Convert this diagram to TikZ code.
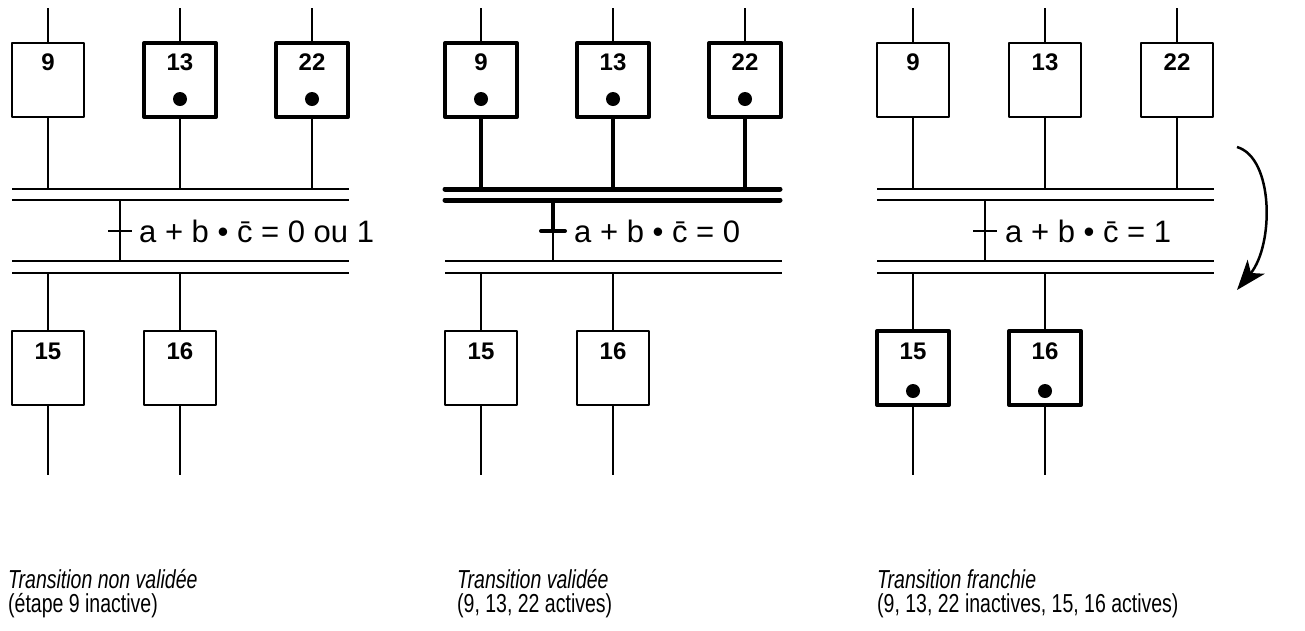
\documentclass[tikz,border=0pt]{standalone}
\usepackage{fontspec}
\setmainfont{Liberation Sans}
\newfontfamily\etroite[FakeStretch=0.75]{Liberation Sans}
\usetikzlibrary{arrows.meta}

\tikzset{
  etape/.style={draw, line width=2pt, line join=round, minimum width=72pt, minimum height=74pt, inner sep=0pt},
  active/.style={line width=4pt},
  numero/.style={font=\bfseries\fontsize{24}{24}\selectfont, inner sep=0pt},
  jeton/.style={circle, fill, inner sep=0pt, minimum size=14pt},
  lien/.style={line width=1.5pt},
  lienfort/.style={line width=4pt},
  busfort/.style={line width=5pt, line cap=round},
  receptivite/.style={anchor=west, inner sep=0pt, font=\fontsize{31}{31}\selectfont},
  legende/.style={anchor=base west, inner sep=0pt, font=\etroite\fontsize{26}{26}\selectfont},
}

\begin{document}
\begin{tikzpicture}[x=1pt, y=-1pt]
\useasboundingbox (0,0) rectangle (1305,630);

% transition non validee
\coordinate (a-haut) at (0,8);
\coordinate (a-bas) at (0,475);
\coordinate (a-s1) at (12,189); \coordinate (a-s2) at (12,200);
\coordinate (a-s3) at (12,261); \coordinate (a-s4) at (12,273);
\node[etape] (a9) at (48,80) {};
\node[etape, active] (a13) at (180,80) {};
\node[etape, active] (a22) at (312,80) {};
\node[numero] at (48,62) {9};
\node[numero] at (180,62) {13};
\node[numero] at (312,62) {22};
\node[jeton] at (180,99) {};
\node[jeton] at (312,99) {};
\node[etape] (a15) at (48,368) {};
\node[etape] (a16) at (180,368) {};
\node[numero] at (48,351) {15};
\node[numero] at (180,351) {16};
\foreach \e in {a9,a13,a22} {
  \draw[lien] (\e.north) -- (\e.north |- a-haut);
  \draw[lien] (\e.south) -- (\e.south |- a-s1);
}
\foreach \e in {a15,a16} {
  \draw[lien] (\e.north) -- (\e.north |- a-s4);
  \draw[lien] (\e.south) -- (\e.south |- a-bas);
}
\foreach \s in {a-s1,a-s2,a-s3,a-s4}
  \draw[lien] (\s) -- +(337,0);
\coordinate (a-tr) at (120,231);
\draw[lien] (a-tr |- a-s2) -- (a-tr |- a-s3);
\draw[lien] ([xshift=-12pt]a-tr) -- ([xshift=12pt]a-tr);
\node[receptivite] (a-rec) at (139,231) {a + b • \=c = 0 ou 1};
\node[legende] (a-leg1) at (8,588) {\itshape Transition non validée};
\node[legende] (a-leg2) at (8,612) {(étape 9 inactive)};

% transition validee
\coordinate (b-haut) at (0,8);
\coordinate (b-bas) at (0,475);
\coordinate (b-s1) at (445,189); \coordinate (b-s2) at (445,200);
\coordinate (b-s3) at (445,261); \coordinate (b-s4) at (445,273);
\node[etape, active] (b9) at (481,80) {};
\node[etape, active] (b13) at (613,80) {};
\node[etape, active] (b22) at (745,80) {};
\node[numero] at (481,62) {9};
\node[numero] at (613,62) {13};
\node[numero] at (745,62) {22};
\node[jeton] at (481,99) {};
\node[jeton] at (613,99) {};
\node[jeton] at (745,99) {};
\node[etape] (b15) at (481,368) {};
\node[etape] (b16) at (613,368) {};
\node[numero] at (481,351) {15};
\node[numero] at (613,351) {16};
\foreach \e in {b9,b13,b22} {
  \draw[lien] (\e.north) -- (\e.north |- b-haut);
  \draw[lienfort] (\e.south) -- (\e.south |- b-s1);
}
\foreach \e in {b15,b16} {
  \draw[lien] (\e.north) -- (\e.north |- b-s4);
  \draw[lien] (\e.south) -- (\e.south |- b-bas);
}
\draw[busfort] (b-s1) -- +(335,0);
\draw[busfort] (b-s2) -- +(335,0);
\draw[lien] (b-s3) -- +(337,0);
\draw[lien] (b-s4) -- +(337,0);
\coordinate (b-tr) at (553,231);
\draw[lienfort] (b-tr |- b-s2) -- (b-tr);
\draw[lien] (b-tr) -- (b-tr |- b-s3);
\draw[lienfort, line cap=round] ([xshift=-12pt]b-tr) -- ([xshift=12pt]b-tr);
\node[receptivite] (b-rec) at (574,231) {a + b • \=c = 0};
\node[legende] (b-leg1) at (457,588) {\itshape Transition validée};
\node[legende] (b-leg2) at (457,612) {(9, 13, 22 actives)};

% transition franchie
\coordinate (c-haut) at (0,8);
\coordinate (c-bas) at (0,475);
\coordinate (c-s1) at (877,189); \coordinate (c-s2) at (877,200);
\coordinate (c-s3) at (877,261); \coordinate (c-s4) at (877,273);
\node[etape] (c9) at (913,80) {};
\node[etape] (c13) at (1045,80) {};
\node[etape] (c22) at (1177,80) {};
\node[numero] at (913,62) {9};
\node[numero] at (1045,62) {13};
\node[numero] at (1177,62) {22};
\node[etape, active] (c15) at (913,368) {};
\node[etape, active] (c16) at (1045,368) {};
\node[numero] at (913,351) {15};
\node[numero] at (1045,351) {16};
\node[jeton] at (913,391) {};
\node[jeton] at (1045,391) {};
\foreach \e in {c9,c13,c22} {
  \draw[lien] (\e.north) -- (\e.north |- c-haut);
  \draw[lien] (\e.south) -- (\e.south |- c-s1);
}
\foreach \e in {c15,c16} {
  \draw[lien] (\e.north) -- (\e.north |- c-s4);
  \draw[lien] (\e.south) -- (\e.south |- c-bas);
}
\foreach \s in {c-s1,c-s2,c-s3,c-s4}
  \draw[lien] (\s) -- +(337,0);
\coordinate (c-tr) at (985,231);
\draw[lien] (c-tr |- c-s2) -- (c-tr |- c-s3);
\draw[lien] ([xshift=-12pt]c-tr) -- ([xshift=12pt]c-tr);
\node[receptivite] (c-rec) at (1005,231) {a + b • \=c = 1};
\node[legende] (c-leg1) at (877,588) {\itshape Transition franchie};
\node[legende] (c-leg2) at (877,612) {(9, 13, 22 inactives, 15, 16 actives)};

% franchissement
\coordinate (c-fd) at (1237,147);
\coordinate (c-ff) at (1237,290);
\draw[line width=2.5pt, -{Stealth[length=30pt, width=22pt, inset=8pt]}] (c-fd) .. controls (1274,158) and (1274,245) .. (c-ff);
\end{tikzpicture}
\end{document}
